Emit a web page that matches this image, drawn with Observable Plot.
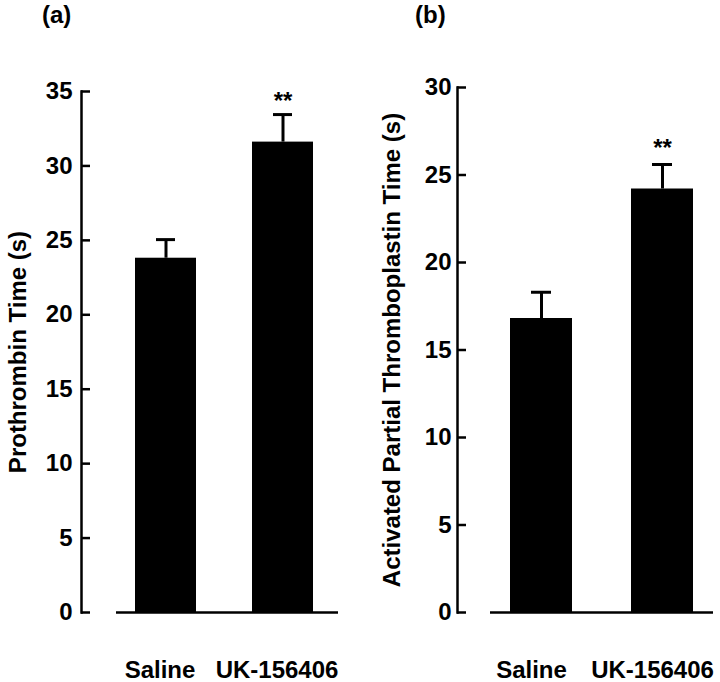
<!DOCTYPE html>
<html><head><meta charset="utf-8">
<script src="https://cdn.jsdelivr.net/npm/d3@7"></script>
<script src="https://cdn.jsdelivr.net/npm/@observablehq/plot@0.6"></script>
<style>
body{margin:0;background:#fff;}
#wrap{position:relative;width:720px;height:682px;background:#fff;}
.panel{position:absolute;top:0;z-index:0;}
.tag{position:absolute;top:3px;z-index:2;font:bold 24px "Liberation Sans",Arial,sans-serif;line-height:24px;color:#000;}
</style></head><body>
<div id="wrap">
  <div class="tag" style="left:42px">(a)</div>
  <div class="tag" style="left:415px">(b)</div>
</div>
<script>
const groups = ["Saline", "UK-156406"];
const sig = ["", "**"];
const ptMean = [23.8, 31.6];
const ptErr = [1.25, 1.85];
const apttMean = [16.8, 24.2];
const apttErr = [1.5, 1.4];
const ptTicks = [0, 5, 10, 15, 20, 25, 30, 35];
const apttTicks = [0, 5, 10, 15, 20, 25, 30];

const FONT = '"Liberation Sans", Arial, Helvetica, sans-serif';

function panel(o) {
  const data = groups.map((g, i) => ({g, m: o.means[i], hi: o.means[i] + o.errs[i], s: sig[i]}));
  return Plot.plot({
    width: 360, height: 682,
    marginTop: o.marginTop, marginBottom: 70, marginLeft: o.marginLeft, marginRight: o.marginRight,
    style: {fontFamily: FONT, fontWeight: "bold", fontSize: "24px", color: "#000", background: "transparent", overflow: "visible"},
    x: {domain: groups, range: o.xRange, paddingInner: o.pi, paddingOuter: o.po, align: o.align, label: null, axis: null},
    y: {domain: [0, d3.max(o.ticks)], label: null, axis: null},
    marks: [
      Plot.frame({anchor: "left", strokeWidth: 2.5, stroke: "#000"}),
      Plot.axisY(o.ticks, {tickSize: 9, dx: 9, tickPadding: o.tickPadding, strokeWidth: 2.5, stroke: "#000", fontSize: 24, fontWeight: "bold", label: null}),
      Plot.axisX({tickSize: 0, tickPadding: 48, dx: o.xdx, fontSize: 24, fontWeight: "bold", label: null}),
      Plot.ruleY([0], {insetLeft: o.baseInset, strokeWidth: 2.5, stroke: "#000"}),
      Plot.barY(data, {x: "g", y: "m", fill: "#000"}),
      Plot.ruleX(data, {x: "g", y1: "m", y2: "hi", strokeWidth: 3, stroke: "#000"}),
      Plot.tickY(data, {x: "g", y: "hi", insetLeft: 21, insetRight: 21, strokeWidth: 3, stroke: "#000"}),
      Plot.text(data, {x: "g", y: "hi", text: "s", dy: o.starDy, fontSize: 24, fontWeight: "bold", fill: "#000"}),
      Plot.text([o.label], {text: d => d, frameAnchor: "left", textAnchor: "middle", lineAnchor: "middle", rotate: -90, dx: o.labelDx, dy: o.labelDy, fontSize: o.labelSize, fontWeight: "bold", fill: "#000"})
    ]
  });
}

const a = panel({
  means: ptMean, errs: ptErr, ticks: ptTicks, label: "Prothrombin Time (s)",
  marginTop: 91, marginLeft: 81, marginRight: 22, xRange: [116, 338],
  pi: 0.475, po: 0.18, align: 0.44, tickPadding: 9, baseInset: 35, labelDx: -63, labelDy: 0, labelSize: 24, xdx: -6, starDy: -13
});
const b = panel({
  means: apttMean, errs: apttErr, ticks: apttTicks, label: "Activated Partial Thromboplastin Time (s)",
  marginTop: 87, marginLeft: 97, marginRight: 7, xRange: [130, 353],
  pi: 0.49, po: 0.16, align: 0.5, tickPadding: 6, baseInset: 33, labelDx: -65, labelDy: 0, labelSize: 24, xdx: -10, starDy: -16
});
a.classList.add("panel"); a.style.left = "0px";
b.classList.add("panel"); b.style.left = "360px";
const wrap = document.getElementById("wrap");
wrap.insertBefore(b, wrap.firstChild);
wrap.insertBefore(a, wrap.firstChild);
</script>
</body></html>
